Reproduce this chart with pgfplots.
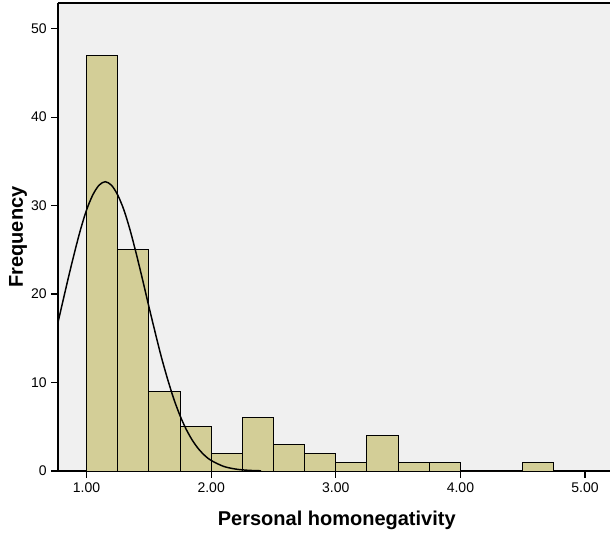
\documentclass[border=0pt]{standalone}
\usepackage{fontspec}
\setmainfont{Liberation Sans}
\usepackage{pgfplots}
\pgfplotsset{compat=1.18}
\definecolor{barfill}{HTML}{D3CE97}
\definecolor{bg}{HTML}{F0F0F0}
\begin{document}
\begin{tikzpicture}[x=1pt,y=1pt]
\begin{axis}[
  scale only axis,
  width=414pt, height=351pt,
  xmin=0.771, xmax=5.2, ymin=0, ymax=52.9,
  axis x line*=bottom, axis y line*=left,
  axis line style={line width=0.9pt},
  axis background/.style={fill=bg},
  xtick={1,2,3,4,5}, ytick={0,10,20,30,40,50},
  tick align=outside, major tick length=5pt,
  tick style={black, line width=0.9pt},
  /pgf/number format/assume math mode=true,
  xticklabel style={/pgf/number format/.cd, fixed, fixed zerofill, precision=2},
  yticklabel style={/pgf/number format/.cd, fixed, precision=0},
  tick label style={font=\fontsize{10.5}{12}\selectfont},
  xlabel={Personal homonegativity}, ylabel={Frequency},
  every axis x label/.style={at={(axis description cs:0.505,-0.105)}, anchor=center, font=\fontsize{15}{17}\selectfont\bfseries},
  every axis y label/.style={at={(axis description cs:-0.0725,0.5)}, anchor=center, rotate=90, font=\fontsize{15}{17}\selectfont\bfseries},
  clip=false,
]
\draw[line width=0.9pt] (rel axis cs:0,1) -- (rel axis cs:1,1);
\addplot[ybar interval, fill=barfill, draw=black, line width=0.75pt] coordinates {
(1.00,47) (1.25,25) (1.50,9) (1.75,5) (2.00,2) (2.25,6) (2.50,3) (2.75,2)
(3.00,1) (3.25,4) (3.50,1) (3.75,1) (4.00,0) (4.25,0) (4.50,1) (4.75,0)
};
\addplot[smooth, black, line width=1.1pt, no markers] coordinates {
(0.771,16.8) (0.85,21.6) (0.90,24.5) (0.95,27.2) (1.00,29.5) (1.05,31.2) (1.10,32.3)
(1.15,32.7) (1.20,32.3) (1.25,31.2) (1.30,29.5) (1.35,27.2) (1.40,24.5) (1.45,21.6)
(1.50,18.6) (1.55,15.7) (1.60,12.9) (1.65,10.4) (1.70,8.15) (1.75,6.26) (1.80,4.70)
(1.85,3.45) (1.90,2.47) (1.95,1.73) (2.00,1.19) (2.10,0.52) (2.20,0.21) (2.30,0.075)
(2.40,0.025)
};
\end{axis}
\pgfresetboundingbox
\path (-43.5pt,-51pt) rectangle (414pt,353.25pt);
\end{tikzpicture}
\end{document}
